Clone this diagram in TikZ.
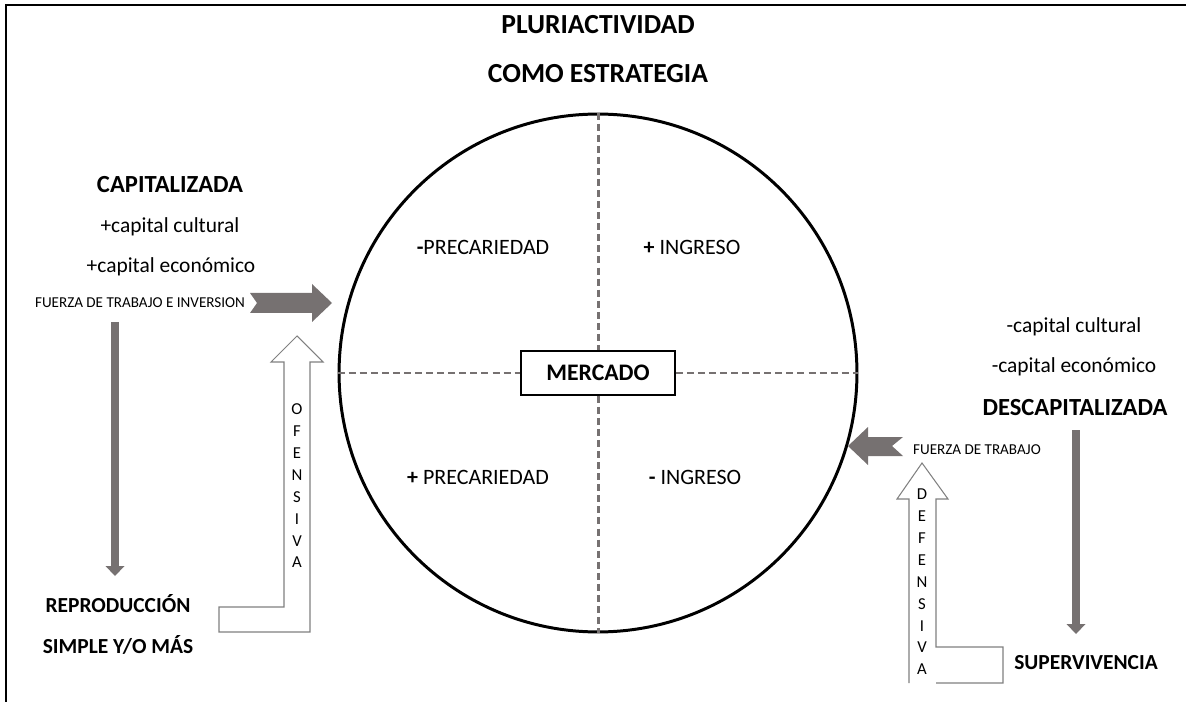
\documentclass[tikz,border=0pt]{standalone}
\usepackage{fontspec}
\setmainfont{Carlito}
\usetikzlibrary{arrows.meta,positioning}
\definecolor{gris}{HTML}{767171}
\definecolor{rayas}{HTML}{767171}
\definecolor{borde}{HTML}{808080}

\begin{document}
\begin{tikzpicture}[
  x=0.02cm,y=-0.02cm,
  head/.style={font=\fontsize{14}{16}\selectfont\bfseries},
  pie/.style={font=\fontsize{12.2}{14}\selectfont\bfseries},
  txt/.style={font=\fontsize{12.2}{14}\selectfont},
  small/.style={font=\fontsize{8.6}{10}\selectfont},
  vert/.style={font=\fontsize{9.5}{12.45}\selectfont,align=center,inner sep=0pt},
  eje/.style={draw=rayas,line width=1.7pt,dash pattern=on 4pt off 2.3pt},
  bloque/.style={fill=gris},
  codo/.style={draw=borde,fill=white,line width=0.6pt},
  bajada/.style={draw=gris,line width=0.17cm,-{Triangle[width=0.38cm,length=0.2cm,line width=0pt]}}
]
  \useasboundingbox (0,0) rectangle (1186,702);
  \draw[line width=1.5pt] (6,702) -- (6,5) -- (1186,5);

  % titulo
  \node[font=\fontsize{15.7}{18}\selectfont\bfseries] (tit1) at (598,25) {PLURIACTIVIDAD};
  \node[font=\fontsize{15.7}{18}\selectfont\bfseries] (tit2) at (598,74) {COMO ESTRATEGIA};

  % mercado
  \node[circle,draw,line width=1.7pt,minimum size=10.36cm] (circ) at (598,373) {};
  \node[draw,fill=white,line width=0.8pt,minimum width=3.08cm,minimum height=0.88cm,
        font=\fontsize{13.5}{15}\selectfont\bfseries] (mkt) at (598,373) {MERCADO};
  \draw[eje] (circ.north) -- (mkt.north);
  \draw[eje] (mkt.south) -- (circ.south);
  \draw[eje] (circ.west) -- (mkt.west);
  \draw[eje] (mkt.east) -- (circ.east);
  \node[txt,font=\fontsize{12.5}{14}\selectfont] (q1) at (483,247) {\textbf{-}PRECARIEDAD};
  \node[txt,font=\fontsize{12.5}{14}\selectfont] (q2) at (692,247) {\textbf{+} INGRESO};
  \node[txt,font=\fontsize{12.5}{14}\selectfont] (q3) at (478,477) {\textbf{+} PRECARIEDAD};
  \node[txt,font=\fontsize{12.5}{14}\selectfont] (q4) at (695,477) {\textbf{-} INGRESO};

  % capitalizada
  \node[head] (cap) at (170,185) {CAPITALIZADA};
  \node[txt] (cc1) at (170,227) {+capital cultural};
  \node[txt] (ce1) at (171,267) {+capital económico};
  \node[small] (fza1) at (140,303) {FUERZA DE TRABAJO E INVERSION};
  \node[pie] (rep1) at (118,604) {REPRODUCCIÓN};
  \node[pie] (rep2) at (118,645) {SIMPLE Y/O MÁS};
  \coordinate (in1) at (332,303);
  \fill[bloque] (in1) -- ++(-20,-19) -- ++(0,9) -- ++(-62,0) -- ++(7,10)
    -- ++(-7,10) -- ++(62,0) -- ++(0,9) -- cycle;
  \coordinate (l1) at (115,322);
  \coordinate (l2) at (115,576);
  \draw[bajada] (l1) -- (l2);
  \coordinate (of) at (297,336);
  \draw[codo] (of) -- ++(26,26) -- ++(-13,0) -- ++(0,270) -- ++(-91,0)
    -- ++(0,-25) -- ++(65,0) -- ++(0,-245) -- ++(-13,0) -- cycle;
  \node[vert] (ofen) at (297,486) {O\\F\\E\\N\\S\\I\\V\\A};

  % descapitalizada
  \node[txt] (cc2) at (1074,327) {-capital cultural};
  \node[txt] (ce2) at (1074,367) {-capital económico};
  \node[head] (desc) at (1075,408) {DESCAPITALIZADA};
  \node[small] (fza2) at (977,450) {FUERZA DE TRABAJO};
  \node[pie] (sup) at (1086,663) {SUPERVIVENCIA};
  \coordinate (in2) at (848,446);
  \fill[bloque] (in2) -- ++(20,-19) -- ++(0,10) -- ++(35,0) -- ++(-11,9)
    -- ++(11,10) -- ++(-35,0) -- ++(0,9) -- cycle;
  \coordinate (r1) at (1076,430);
  \coordinate (r2) at (1076,634);
  \draw[bajada] (r1) -- (r2);
  \coordinate (df) at (922,463);
  \fill[white] (909,499) rectangle (936,683);
  \draw[codo,fill=none] (909,683) -- (909,499) -- ++(-12,0) -- (df) -- ++(26,36)
    -- ++(-12,0) -- ++(0,148) -- ++(67,0) -- ++(0,36) -- ++(-67,0);
  \node[vert] (defen) at (922,582) {D\\E\\F\\E\\N\\S\\I\\V\\A};
\end{tikzpicture}
\end{document}
